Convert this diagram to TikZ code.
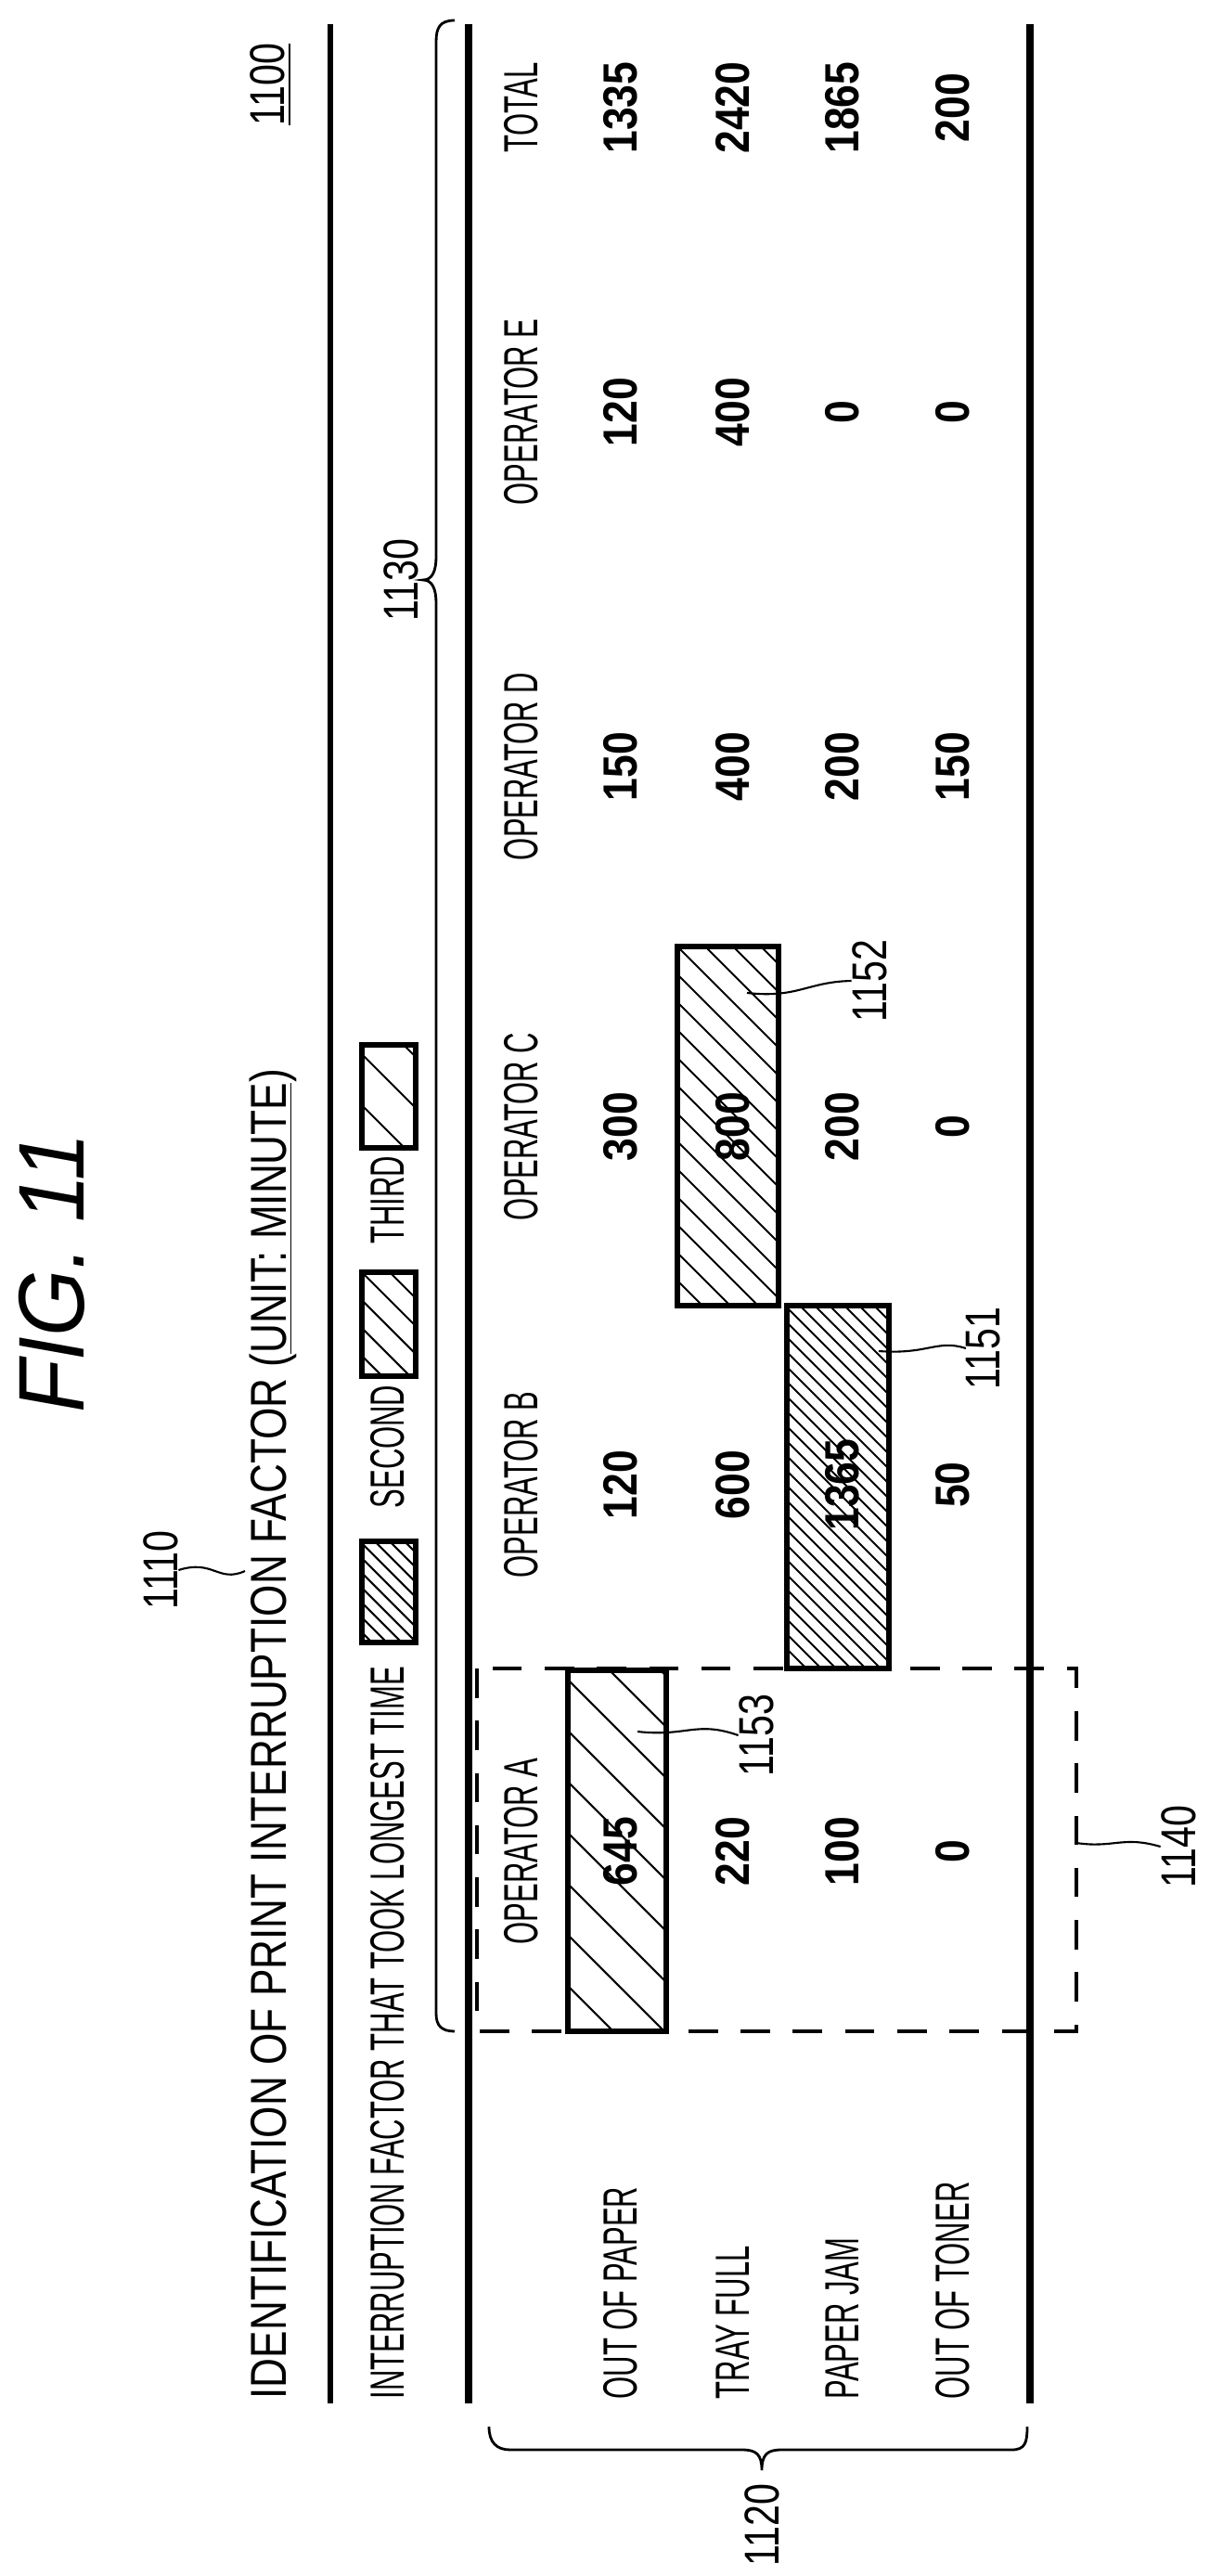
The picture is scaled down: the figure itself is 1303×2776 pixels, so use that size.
\documentclass[tikz,border=0pt]{standalone}
\usepackage{fontspec}
\setmainfont{Liberation Sans}
\usepackage{graphicx}
\usetikzlibrary{positioning}
\newcommand{\cnd}[1]{\scalebox{0.6}[1]{#1}}
\newcommand{\valtxt}[1]{\scalebox{0.86}[1]{\bfseries #1}}
\newcommand{\refno}[1]{\scalebox{0.78}[1]{#1}}
% hatched box: x1, y1, x2, y2, spacing
\newcommand{\hatchbox}[5]{%
  \begin{scope}
    \clip (#1,#2) rectangle (#3,#4);
    \foreach \k in {0,...,60} {
      \pgfmathsetmacro\hx{#1-450+\k*#5}
      \draw[hatch] (\hx,#2) -- ++(500,500);
    }
  \end{scope}
  \draw[frame] (#1,#2) rectangle (#3,#4);
}

\begin{document}
\begin{tikzpicture}[x=0.01cm, y=-0.01cm,
    every node/.style={rotate=90, inner sep=0pt, font=\fontsize{14.7}{16}\selectfont},
    frame/.style={line width=1.5pt},
    hatch/.style={line width=0.6pt},
    leader/.style={line width=0.6pt},
    refnum/.style={font=\fontsize{15}{16}\selectfont}]
    \useasboundingbox (0,0) rectangle (1303,2776);
    % title block
    \node[font=\fontsize{28.6}{30}\selectfont\itshape] (fig) at (56,1372) {\scalebox{0.92}[1]{FIG. 11}};
    \node[refnum] (l1100) at (292,91) {\refno{\underline{1100}}};
    \node[anchor=west, font=\fontsize{15.5}{17}\selectfont] (title) at (294,2586)
        {\scalebox{0.81}[1]{IDENTIFICATION OF PRINT INTERRUPTION FACTOR (\underline{UNIT: MINUTE})}};
    \node[refnum] (l1110) at (173,1692) {\refno{1110}};
    \coordinate (c1110) at (264,1693);
    \draw[leader] (l1110.south) .. controls (230,1680) and (235,1706) .. (c1110);
    % legend
    \node[anchor=west] (lgd) at (418,2586) {\cnd{INTERRUPTION FACTOR THAT TOOK LONGEST TIME}};
    \hatchbox{390}{1661}{448}{1770}{16}
    \node (second) at (418,1559) {\cnd{SECOND}};
    \hatchbox{390}{1371}{448}{1483}{30}
    \node (third) at (418,1293) {\cnd{THIRD}};
    \hatchbox{390}{1126}{448}{1237}{55}
    % rules
    \draw[line width=1.5pt] (356,26) -- (356,2590);
    \draw[line width=2.2pt] (505,26) -- (505,2590);
    \draw[line width=2.2pt] (1110,26) -- (1110,2590);
    % highlighted cells
    \hatchbox{612}{1800}{718}{2189}{55}
    \hatchbox{730}{1020}{839}{1407}{30}
    \hatchbox{848}{1407}{958}{1798}{16}
    \draw[line width=0.9pt, dash pattern=on 9pt off 7pt] (514,1798) rectangle (1160,2189);
    % headers
    \foreach \y/\t in {1995/A,1600/B,1214/C,826/D,444/E}
        \node (h\t) at (562,\y) {\cnd{OPERATOR \t}};
    \node (hT) at (562,116) {\cnd{TOTAL}};
    % row labels
    \foreach \x/\r/\t in {669/1/OUT OF PAPER,790/2/TRAY FULL,908/3/PAPER JAM,1027/4/OUT OF TONER}
        \node[anchor=west] (r\r) at (\x,2586) {\cnd{\t}};
    % values
    \foreach \y/\n/\va/\vb/\vc/\vd in {1995/A/645/220/100/0,1600/B/120/600/1365/50,
        1214/C/300/800/200/0,826/D/150/400/200/150,444/E/120/400/0/0,116/T/1335/2420/1865/200} {
        \node (v\n1) at (669,\y) {\valtxt{\va}};
        \node (v\n2) at (790,\y) {\valtxt{\vb}};
        \node (v\n3) at (908,\y) {\valtxt{\vc}};
        \node (v\n4) at (1027,\y) {\valtxt{\vd}};
    }
    % braces
    \draw[line width=0.8pt] (490,22) .. controls (474,22) and (470,30) .. (470,45) -- (470,600)
        .. controls (470,615) and (466,625) .. (456,625) .. controls (466,625) and (470,635) .. (470,650)
        -- (470,2170) .. controls (470,2183) and (476,2189) .. (490,2189);
    \node[refnum] (l1130) at (432,625) {\refno{1130}};
    \draw[line width=0.8pt] (527,2615) .. controls (527,2632) and (535,2640) .. (550,2640) -- (800,2640)
        .. controls (815,2640) and (821,2645) .. (821,2662) .. controls (821,2645) and (827,2640) .. (842,2640)
        -- (1090,2640) .. controls (1105,2640) and (1107,2632) .. (1107,2615);
    \node[refnum] (l1120) at (821,2721) {\refno{1120}};
    % reference leaders
    \node[refnum] (l1152) at (937,1057) {\refno{1152}};
    \node[refnum] (l1151) at (1060,1453) {\refno{1151}};
    \node[refnum] (l1153) at (815,1870) {\refno{1153}};
    \node[refnum] (l1140) at (1270,1990) {\refno{1140}};
    \coordinate (c1152) at (805,1070);
    \coordinate (c1151) at (947,1456);
    \coordinate (c1153) at (687,1866);
    \coordinate (c1140) at (1160,1986);
    \draw[leader] (c1152) .. controls (860,1076) and (870,1058) .. (l1152.north);
    \draw[leader] (c1151) .. controls (1000,1460) and (1010,1443) .. (l1151.north);
    \draw[leader] (c1153) .. controls (740,1872) and (750,1854) .. (l1153.north);
    \draw[leader] (c1140) .. controls (1200,1992) and (1210,1978) .. (l1140.north);
\end{tikzpicture}
\end{document}
